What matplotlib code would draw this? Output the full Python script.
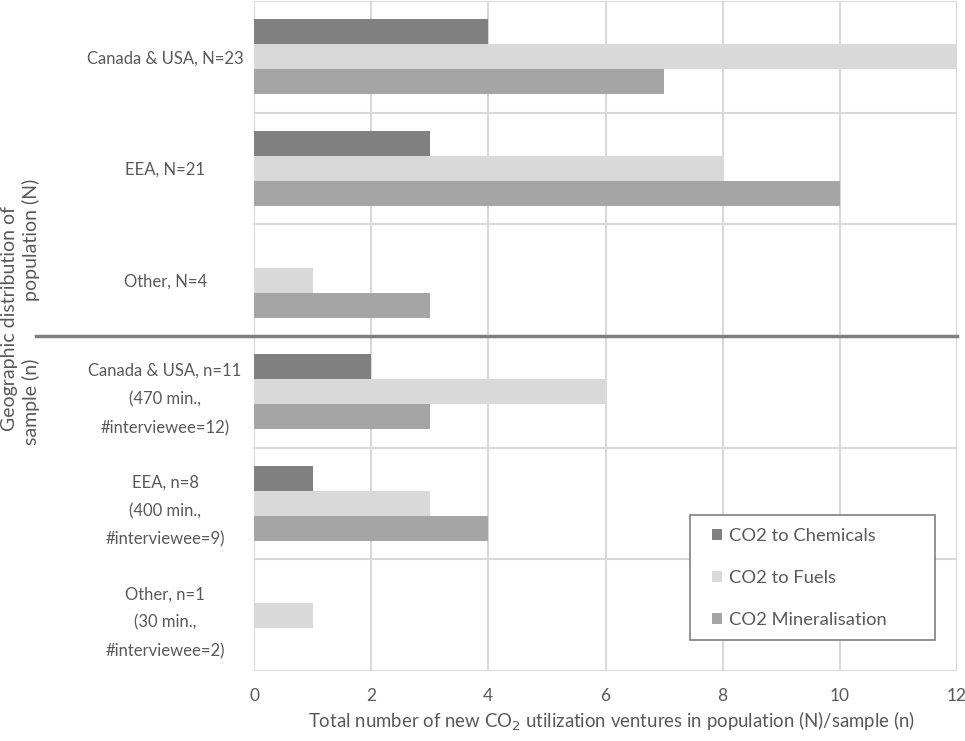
import matplotlib.pyplot as plt
import matplotlib.patches as mpatches
import numpy as np

plt.rcParams['font.family'] = ['Lato', 'DejaVu Sans']

# grupos (de arriba hacia abajo)
grupos = ['Canada & USA, N=23', 'EEA, N=21', 'Other, N=4',
          'Canada & USA, n=11\n(470 min.,\n#interviewee=12)',
          'EEA, n=8\n(400 min.,\n#interviewee=9)',
          'Other, n=1\n(30 min.,\n#interviewee=2)']
chemicals = [4, 3, 0, 2, 1, 0]
fuels = [12, 8, 1, 6, 3, 1]
mineral = [7, 10, 3, 3, 4, 0]

series = ['CO2 to Chemicals', 'CO2 to Fuels', 'CO2 Mineralisation']
colores = ['#808080', '#d9d9d9', '#a5a5a5']
texto = '#595959'

fig = plt.figure(figsize=(9.65, 7.41), dpi=100)
ax = fig.add_axes([254 / 965, 1 - 671 / 741, 703 / 965, 670 / 741])

y = np.arange(len(grupos))
h = 0.224
for k, (vals, lab, col) in enumerate(zip([chemicals, fuels, mineral], series, colores)):
    ax.barh(y + (k - 1) * h, vals, height=h, color=col, label=lab, zorder=3)

ax.set_ylim(len(grupos) - 0.5, -0.5)
ax.set_xlim(0, 12)
ax.set_xticks(range(0, 13, 2))
ax.set_yticks(y)
ax.set_yticklabels(grupos, ha='center', fontsize=12, color=texto, linespacing=1.95)
ax.tick_params(axis='y', length=0, pad=64)
ax.tick_params(axis='x', length=0, pad=12, labelsize=12.5, labelcolor=texto)

# rejilla
for xv in range(0, 13, 2):
    ax.axvline(xv, color='#d9d9d9', lw=1.5, zorder=1)
for yb in np.arange(-0.5, len(grupos), 1.0):
    ax.axhline(yb, color='#d9d9d9', lw=1.5, zorder=1)
for s in ax.spines.values():
    s.set_visible(False)

# separador poblacion / muestra
ax.axhline(2.5, xmin=(36 - 254) / 703, xmax=1, color='#7f7f7f', lw=2.5,
           clip_on=False, zorder=4)

fig.text(611 / 965, 1 - 721 / 741,
         'Total number of new CO$_2$ utilization ventures in population (N)/sample (n)',
         ha='center', va='center', fontsize=13.4, color=texto)

fig.text(10 / 965, 1 - 318 / 741, 'Geographic distribution of', rotation=90,
         ha='center', va='center', fontsize=14, color=texto)
fig.text(31 / 965, 1 - 240 / 741, 'population (N)', rotation=90,
         ha='center', va='center', fontsize=14, color=texto)
fig.text(31 / 965, 1 - 402 / 741, 'sample (n)', rotation=90,
         ha='center', va='center', fontsize=14, color=texto)

# caja de la leyenda
caja = mpatches.Rectangle((690 / 965, 1 - 640 / 741), 245 / 965, 125 / 741,
                          transform=fig.transFigure, facecolor='white',
                          edgecolor='#808080', lw=1.2, zorder=5, clip_on=False)
ax.add_artist(caja)

leg = ax.legend(loc='center left', bbox_to_anchor=(712 / 965, 1 - 578 / 741),
                bbox_transform=fig.transFigure, fontsize=13.2, frameon=False,
                handlelength=0.55, handleheight=0.55, handletextpad=0.4,
                labelspacing=1.4, borderpad=0, borderaxespad=0)
for t in leg.get_texts():
    t.set_color(texto)
leg.set_zorder(6)

fig.savefig('out.png', dpi=100, facecolor='white')
